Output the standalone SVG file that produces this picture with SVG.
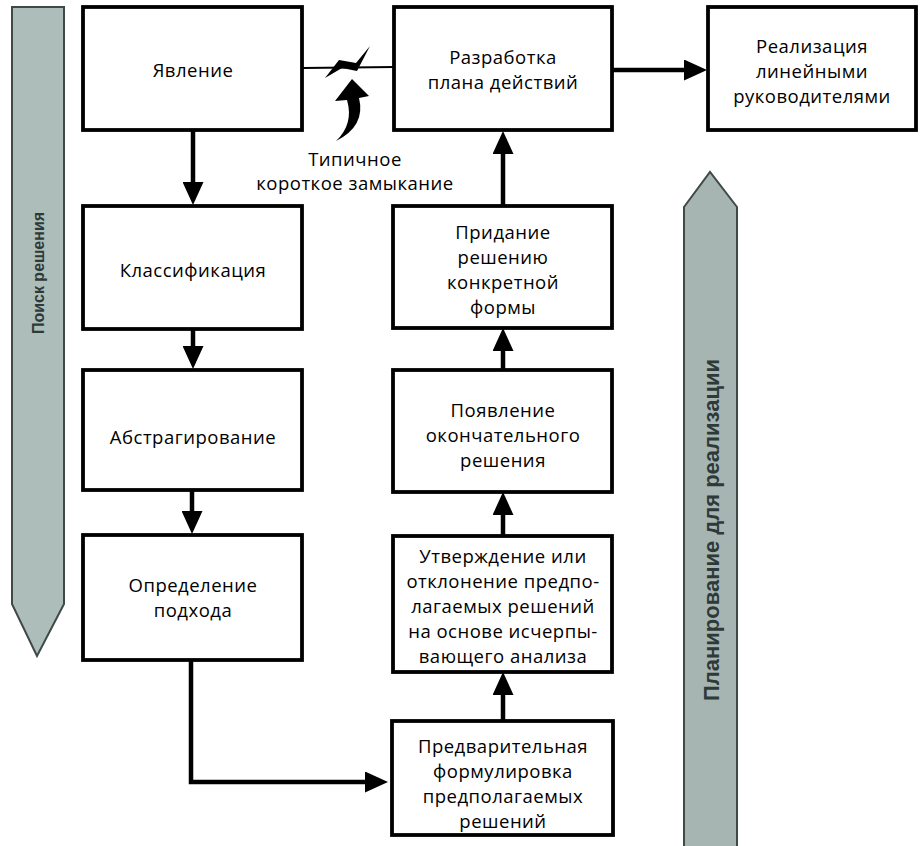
<svg xmlns="http://www.w3.org/2000/svg" width="920" height="846" viewBox="0 0 920 846">
<style>
.box{fill:#fff;stroke:#000;stroke-width:3.8}
.t{font-family:"Open Sans","Noto Sans",sans-serif;font-size:18.5px;letter-spacing:0.5px;fill:#000;text-anchor:middle}
.band{stroke:#3f4a48;stroke-width:2}
.bt{font-family:"Liberation Sans",Arial,sans-serif;font-weight:bold;fill:#2e3a38;text-anchor:middle}
.ln{stroke:#000;stroke-width:4.5;fill:none}
</style>
<defs>
<marker id="ah" markerUnits="userSpaceOnUse" markerWidth="23" markerHeight="21" viewBox="0 0 23 21" refX="16" refY="10.5" orient="auto">
<path d="M0,0 L23,10.5 L0,21 Z" fill="#000"/>
</marker>
</defs>
<rect width="920" height="846" fill="#fff"/>

<g id="band-search">
<polygon class="band" fill="#adbdba" points="12,7 64,7 64,604 37,656 12,604"/>
<text class="bt" font-size="16" transform="translate(44,273) rotate(-90)">Поиск решения</text>
</g>
<g id="band-plan">
<polygon class="band" fill="#a7b5b2" points="684,848 684,207 710,172 737,207 737,848"/>
<text class="bt" font-size="22" transform="translate(719,530) rotate(-90)">Планирование для реализации</text>
</g>

<g id="connectors">
<line class="ln" x1="193" y1="131" x2="193" y2="198" marker-end="url(#ah)"/>
<line class="ln" x1="193" y1="330" x2="193" y2="362" marker-end="url(#ah)"/>
<line class="ln" x1="192" y1="490" x2="192" y2="527" marker-end="url(#ah)"/>
<polyline class="ln" points="191,660 191,782 381,782" marker-end="url(#ah)"/>
<line class="ln" x1="503" y1="720" x2="503" y2="679" marker-end="url(#ah)"/>
<line class="ln" x1="503" y1="535" x2="503" y2="499" marker-end="url(#ah)"/>
<line class="ln" x1="503" y1="370" x2="503" y2="335" marker-end="url(#ah)"/>
<line class="ln" x1="503" y1="205" x2="503" y2="138" marker-end="url(#ah)"/>
<line class="ln" x1="612" y1="70" x2="700" y2="70" marker-end="url(#ah)"/>
</g>

<g id="short-circuit">
<line x1="303" y1="68" x2="395" y2="67" stroke="#000" stroke-width="2"/>
<polygon points="325,78 339,60 356,63 370,46 357,71 342,68" fill="#000"/>
<path d="M336,141 Q354,124 347,100 L335,101 L352,79 L369,96 L359,98 Q366,126 336,141 Z" fill="#000"/>
<text class="t" x="355" y="166">Типичное</text>
<text class="t" x="355" y="190">короткое замыкание</text>
</g>

<g id="n-yavlenie">
<rect class="box" x="83" y="7" width="219" height="123"/>
<text class="t" x="193" y="77">Явление</text>
</g>
<g id="n-klass">
<rect class="box" x="83" y="206" width="219" height="123"/>
<text class="t" x="193" y="277">Классификация</text>
</g>
<g id="n-abstr">
<rect class="box" x="83" y="370" width="219" height="120"/>
<text class="t" x="193" y="444">Абстрагирование</text>
</g>
<g id="n-opred">
<rect class="box" x="83" y="535" width="219" height="125"/>
<text class="t" x="193" y="592">Определение</text>
<text class="t" x="193" y="617">подхода</text>
</g>
<g id="n-razrab">
<rect class="box" x="394" y="7" width="218" height="123"/>
<text class="t" x="503" y="64">Разработка</text>
<text class="t" x="503" y="89">плана действий</text>
</g>
<g id="n-realiz">
<rect class="box" x="708" y="7" width="208" height="123"/>
<text class="t" x="812" y="53">Реализация</text>
<text class="t" x="812" y="78">линейными</text>
<text class="t" x="812" y="103">руководителями</text>
</g>
<g id="n-pridanie">
<rect class="box" x="393" y="206" width="219" height="122"/>
<text class="t" x="503" y="239">Придание</text>
<text class="t" x="503" y="264">решению</text>
<text class="t" x="503" y="289">конкретной</text>
<text class="t" x="503" y="314">формы</text>
</g>
<g id="n-poyavl">
<rect class="box" x="393" y="370" width="219" height="122"/>
<text class="t" x="503" y="417">Появление</text>
<text class="t" x="503" y="442">окончательного</text>
<text class="t" x="503" y="467">решения</text>
</g>
<g id="n-utverzh">
<rect class="box" x="393" y="536" width="219" height="136"/>
<text class="t" x="503" y="563">Утверждение или</text>
<text class="t" x="503" y="588">отклонение предпо-</text>
<text class="t" x="503" y="613">лагаемых решений</text>
<text class="t" x="503" y="638">на основе исчерпы-</text>
<text class="t" x="503" y="663">вающего анализа</text>
</g>
<g id="n-predv">
<rect class="box" x="392" y="721" width="221" height="114"/>
<text class="t" x="503" y="753">Предварительная</text>
<text class="t" x="503" y="778">формулировка</text>
<text class="t" x="503" y="803">предполагаемых</text>
<text class="t" x="503" y="828">решений</text>
</g>
</svg>
